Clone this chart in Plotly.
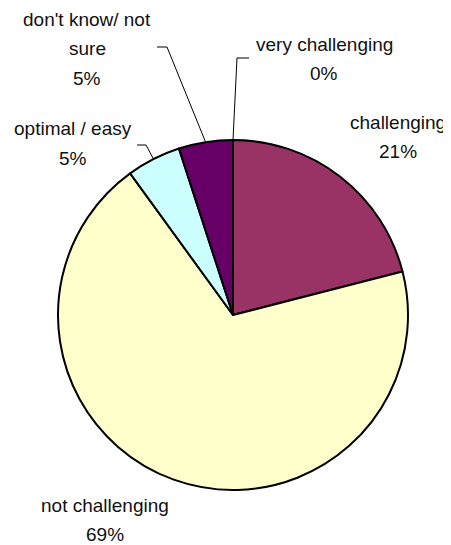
import math
import plotly.graph_objects as go

# ---- data ----
categories = ["very challenging", "challenging", "not challenging", "optimal / easy", "don't know/ not sure"]
values = [0, 21, 69, 5, 5]
pct_labels = ["0%", "21%", "69%", "5%", "5%"]
colors = ["#9999FF", "#993366", "#FFFFCC", "#CCFFFF", "#660066"]

W, H = 451, 545
OFF = 8  # page body margin; coordinates below are page pixels
CX, CY, R = 233, 315, 175  # pie centre / radius in page px

def px(x):
    return (x - OFF) / W

def py(y):
    return 1 - (y - OFF) / H

fig = go.Figure(go.Pie(
    labels=categories,
    values=values,
    sort=False,
    direction="clockwise",
    rotation=0,
    marker=dict(colors=colors, line=dict(color="black", width=2)),
    textinfo="none",
    hoverinfo="label+percent",
    showlegend=False,
    domain=dict(x=[px(CX - R), px(CX + R)], y=[py(CY + R), py(CY - R)]),
))

FONT = dict(family="Liberation Sans, Arial, sans-serif", size=19, color="#111111")

# label lines: (text lines, centre x, first-line centre y)
label_layout = {
    "very challenging": (["very challenging", "0%"], 324, 44),
    "challenging": (["challenging", "21%"], 398, 122),
    "not challenging": (["not challenging", "69%"], 105, 505),
    "optimal / easy": (["optimal / easy", "5%"], 73, 129),
    "don't know/ not sure": (["don't know/ not", "sure", "5%"], 87, 19),
}
LINE_GAP = 29.5

annotations = []
for cat, pct in zip(categories, pct_labels):
    lines, x0, y0 = label_layout[cat]
    lines = lines[:-1] + [pct]
    for i, t in enumerate(lines):
        annotations.append(dict(
            x=px(x0), y=py(y0 + i * LINE_GAP), xref="paper", yref="paper",
            text=t, showarrow=False, font=FONT, xanchor="center", yanchor="middle",
        ))

# leader lines: start (label side) and elbow, end computed on pie edge
total = sum(values)
cum = 0
mids = {}
for cat, v in zip(categories, values):
    mids[cat] = (cum + v / 2) / total * 2 * math.pi
    cum += v

leaders = {
    "very challenging": [(249, 58), (237, 58)],
    "optimal / easy": [(137, 145), (146, 145)],
    "don't know/ not sure": [(157, 47), (167, 47)],
}
shapes = []
for cat, pts in leaders.items():
    a = mids[cat]
    ex, ey = CX + R * math.sin(a), CY - R * math.cos(a)
    allp = pts + [(ex, ey)]
    path = "M " + " L ".join(f"{px(x)},{py(y)}" for x, y in allp)
    shapes.append(dict(type="path", path=path, xref="paper", yref="paper",
                       line=dict(color="black", width=1)))

fig.update_layout(
    width=W, height=H,
    margin=dict(l=0, r=0, t=0, b=0),
    paper_bgcolor="white", plot_bgcolor="white",
    annotations=annotations,
    shapes=shapes,
)

fig.write_html("out.html")
